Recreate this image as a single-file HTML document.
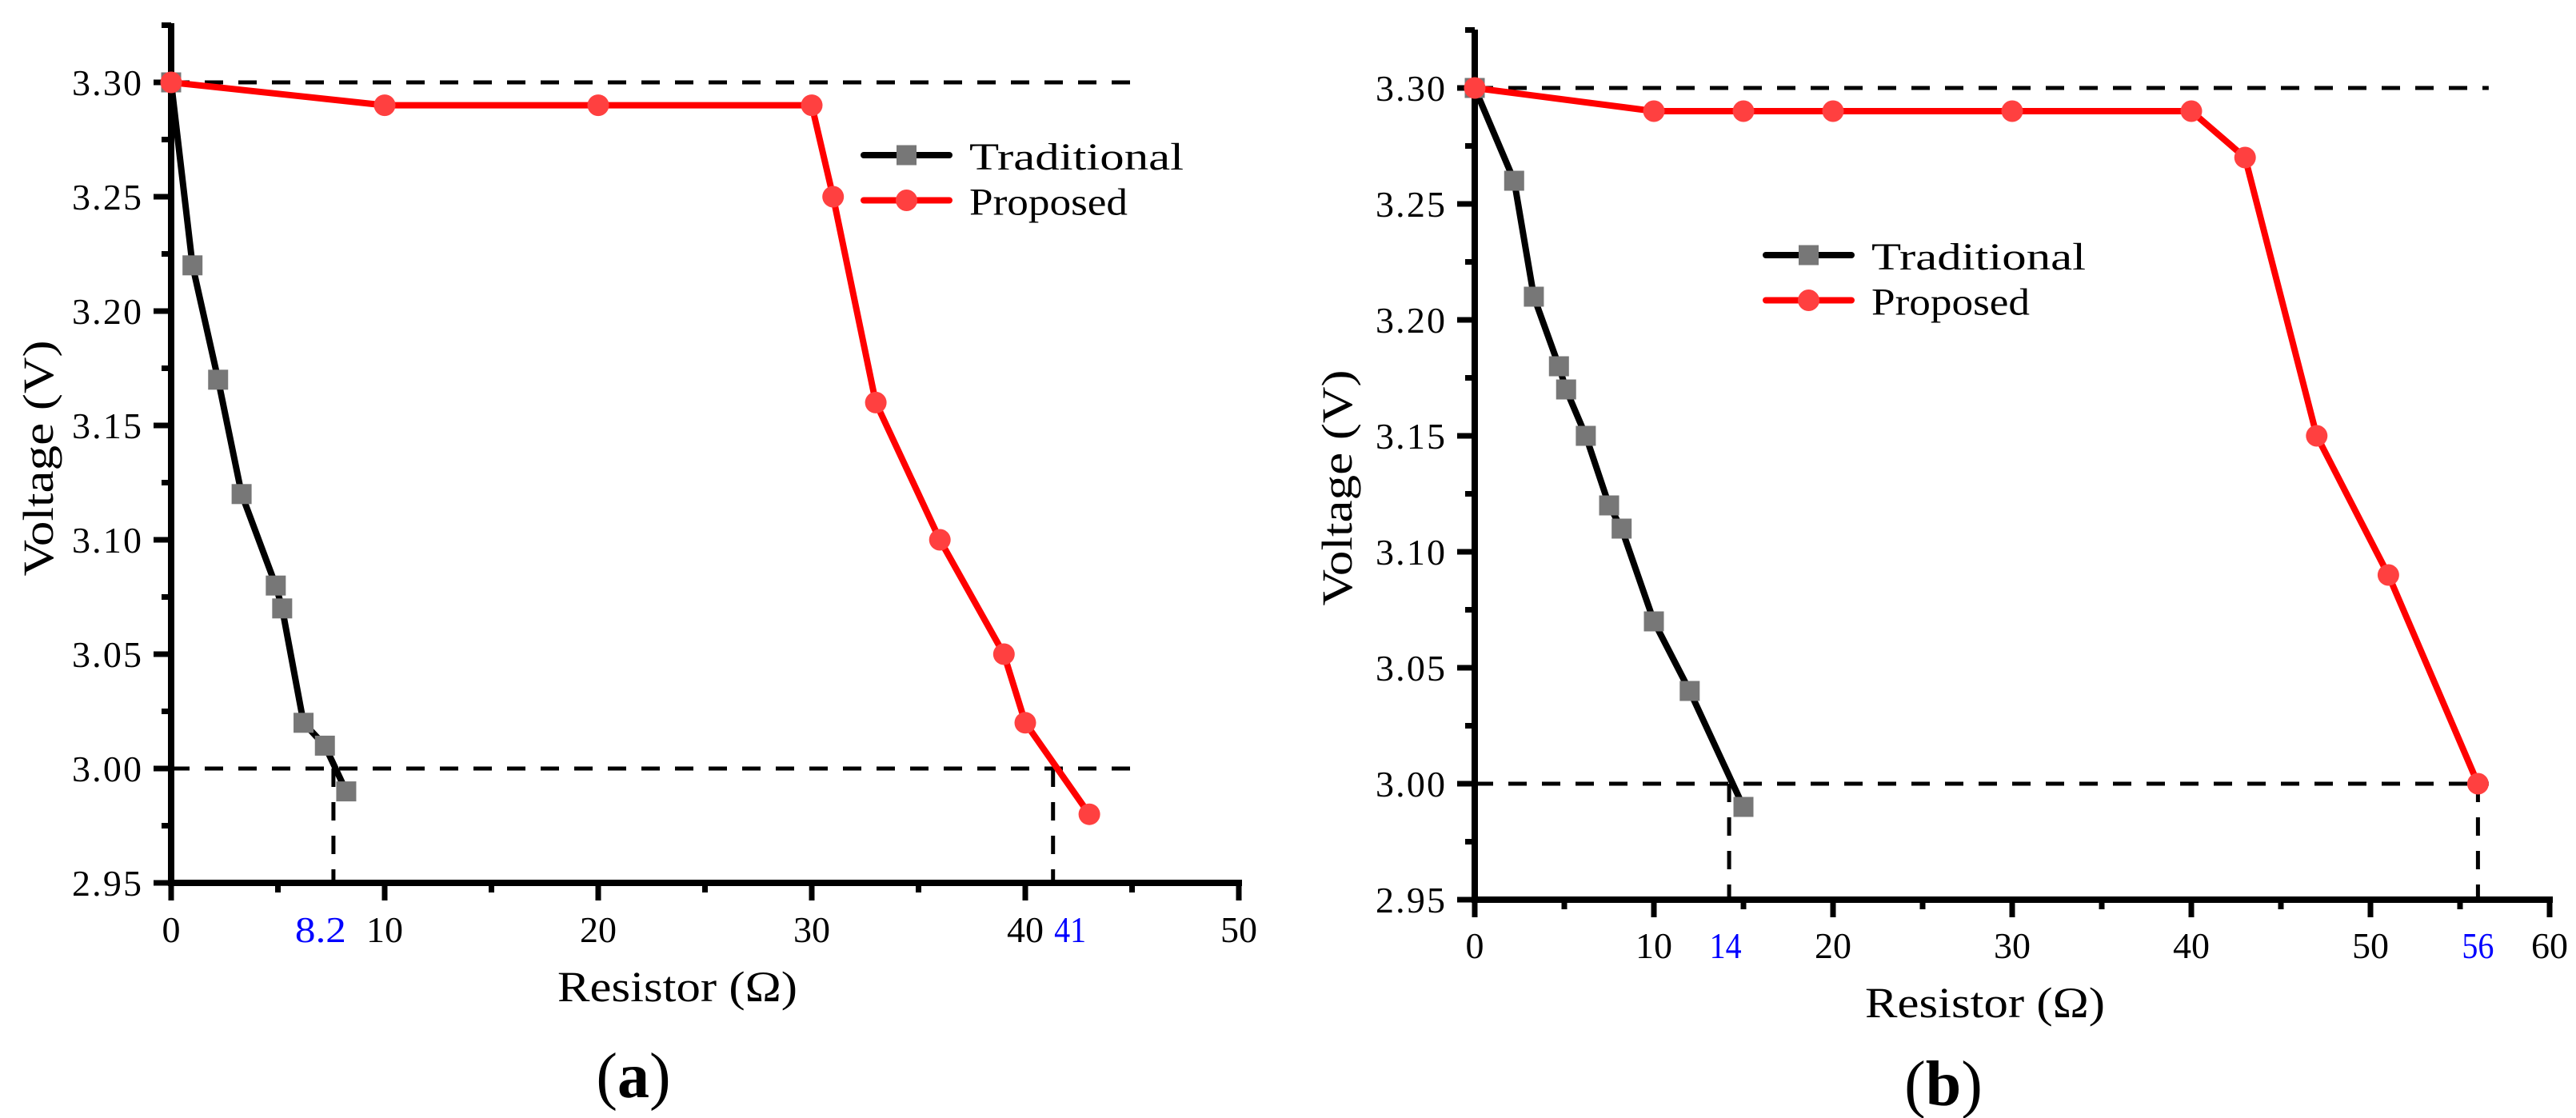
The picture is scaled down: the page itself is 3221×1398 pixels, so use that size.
<!DOCTYPE html>
<html><head><meta charset="utf-8"><style>
html,body{margin:0;padding:0;background:#fff;}
svg{display:block;}
text{font-family:"Liberation Serif","Noto Serif CJK SC",serif;}
</style></head>
<body>
<svg id="fig" width="3221" height="1398" viewBox="0 0 3221 1398"></svg>
<script>
// Panel (a) data
const aTradX = [0, 1.0, 2.2, 3.3, 4.9, 5.2, 6.2, 7.2, 8.2];
const aTradY = [3.30, 3.22, 3.17, 3.12, 3.08, 3.07, 3.02, 3.01, 2.99];
const aPropX = [0, 10, 20, 30, 31, 33, 36, 39, 40, 43];
const aPropY = [3.30, 3.29, 3.29, 3.29, 3.25, 3.16, 3.10, 3.05, 3.02, 2.98];
const aXTicks = [0, 10, 20, 30, 40, 50];
const aCross = [7.6, 41.3];
const aCrossLabels = ["8.2", "41"];
const aCrossLabelAt = [7.0, 42.1];
// Panel (b) data
const bTradX = [0, 2.2, 3.3, 4.7, 5.1, 6.2, 7.5, 8.2, 10, 12, 15];
const bTradY = [3.30, 3.26, 3.21, 3.18, 3.17, 3.15, 3.12, 3.11, 3.07, 3.04, 2.99];
const bPropX = [0, 10, 15, 20, 30, 40, 43, 47, 51, 56];
const bPropY = [3.30, 3.29, 3.29, 3.29, 3.29, 3.29, 3.27, 3.15, 3.09, 3.00];
const bXTicks = [0, 10, 20, 30, 40, 50, 60];
const bCross = [14.2, 56];
const bCrossLabels = ["14", "56"];
const bCrossLabelAt = [14.0, 56];
const yTicks = [2.95, 3.00, 3.05, 3.10, 3.15, 3.20, 3.25, 3.30];
const yTickLabels = ["2.95", "3.00", "3.05", "3.10", "3.15", "3.20", "3.25", "3.30"];
const refLevels = [3.30, 3.00];

const NS = "http://www.w3.org/2000/svg";
const svg = document.getElementById("fig");
function mk(tag, attrs, parent) {
  const e = document.createElementNS(NS, tag);
  for (const k in attrs) e.setAttribute(k, attrs[k]);
  (parent || svg).appendChild(e);
  return e;
}

function panel(cfg) {
  const g = mk("g", {});
  
  
  const sx = v => cfg.x0 + (v - cfg.xmin) * cfg.pxPerX;
  const sy = v => cfg.yBottom - (v - 2.95) * cfg.pxPerY;

  refLevels.forEach((lv, i) => {
    const l = mk("line", {x1: sx(0), x2: sx(cfg.dashEnd), y1: sy(lv), y2: sy(lv), stroke: "#000", "stroke-width": 5, "stroke-dasharray": "23 19"}, g);
    
    
  });
  cfg.cross.forEach((cx, i) => {
    const l = mk("line", {x1: sx(cx), x2: sx(cx), y1: sy(3.00), y2: sy(2.95), stroke: "#000", "stroke-width": 5, "stroke-dasharray": "23 19"}, g);
    
    
    const t = mk("text", {x: sx(cfg.crossLabelAt[i]), y: cfg.labelBase, "font-size": 46, fill: "#0000ff", "text-anchor": "middle", textLength: cfg.crossLabels[i].length === 3 ? 64 : 40, lengthAdjust: "spacingAndGlyphs"}, g);
    t.textContent = cfg.crossLabels[i];
    
    
  });

  const ya = mk("line", {x1: cfg.x0, x2: cfg.x0, y1: cfg.yTop, y2: cfg.yBottom + 4, stroke: "#000", "stroke-width": 8}, g);
  
  
  const xa = mk("line", {x1: cfg.x0 - 4, x2: sx(cfg.xmax) + 4, y1: cfg.yBottom, y2: cfg.yBottom, stroke: "#000", "stroke-width": 8}, g);
  
  

  yTicks.forEach((v, i) => {
    const tk = mk("line", {x1: cfg.x0 - 22, x2: cfg.x0, y1: sy(v), y2: sy(v), stroke: "#000", "stroke-width": 7}, g);
    
    
    const mt = mk("line", {x1: cfg.x0 - 12, x2: cfg.x0, y1: sy(v + 0.025), y2: sy(v + 0.025), stroke: "#000", "stroke-width": 7}, g);
    
    
    const t = mk("text", {x: cfg.x0 - 37, y: sy(v) + 16, "font-size": 46, "text-anchor": "end", textLength: 87, lengthAdjust: "spacing"}, g);
    t.textContent = yTickLabels[i];
    
    
  });
  cfg.xTicks.forEach((v, i) => {
    const tk = mk("line", {x1: sx(v), x2: sx(v), y1: cfg.yBottom, y2: cfg.yBottom + 22, stroke: "#000", "stroke-width": 7}, g);
    
    
    if (i < cfg.xTicks.length - 1) {
      const mt = mk("line", {x1: sx(v + 5), x2: sx(v + 5), y1: cfg.yBottom, y2: cfg.yBottom + 12, stroke: "#000", "stroke-width": 7}, g);
      
      
    }
    const t = mk("text", {x: sx(v), y: cfg.labelBase, "font-size": 46, "text-anchor": "middle"}, g);
    t.textContent = String(v);
    
    
  });

  function series(xs, ys, color, mcolor, shape, nm) {
    const pts = xs.map((x, i) => sx(x) + "," + sy(ys[i])).join(" ");
    const pl = mk("polyline", {points: pts, fill: "none", stroke: color, "stroke-width": 8, "stroke-linejoin": "round", "stroke-linecap": "round"}, g);
    
    
    xs.forEach((x, i) => {
      let m;
      if (shape === "sq") m = mk("rect", {x: sx(x) - 12.5, y: sy(ys[i]) - 12.5, width: 25, height: 25, fill: mcolor}, g);
      else m = mk("circle", {cx: sx(x), cy: sy(ys[i]), r: 13.5, fill: mcolor}, g);
      
      
    });
  }
  series(cfg.tx, cfg.ty, "#000", "#777", "sq", "traditional");
  series(cfg.px, cfg.py, "#ff0000", "#ff4040", "ci", "proposed");

  const lg = mk("g", {}, g);
  
  
  [["Traditional", "#000", "#777", "sq", 268], ["Proposed", "#ff0000", "#ff4040", "ci", 198]].forEach((e, i) => {
    const y = cfg.legY + i * 56.5;
    const ln = mk("line", {x1: cfg.legX, x2: cfg.legX + 107, y1: y, y2: y, stroke: e[1], "stroke-width": 8, "stroke-linecap": "round"}, lg);
    
    
    const cx = cfg.legX + 53.5;
    if (e[3] === "sq") mk("rect", {x: cx - 12.5, y: y - 12.5, width: 25, height: 25, fill: e[2]}, lg);
    else mk("circle", {cx: cx, cy: y, r: 13.5, fill: e[2]}, lg);
    const t = mk("text", {x: cfg.legX + 132, y: y + 18, "font-size": 48, textLength: e[4], lengthAdjust: "spacingAndGlyphs"}, lg);
    t.textContent = e[0];
    
    
  });

  const xt = mk("text", {x: cfg.xTitleX, y: cfg.xTitleY, "font-size": 54, "text-anchor": "middle", textLength: 300, lengthAdjust: "spacingAndGlyphs"}, g);
  xt.textContent = "Resistor (Ω)";
  
  
  const yt = mk("text", {x: 0, y: 0, "font-size": 54, "text-anchor": "middle", textLength: 295, lengthAdjust: "spacingAndGlyphs", transform: "translate(" + cfg.yTitleX + "," + cfg.yTitleY + ") rotate(-90)"}, g);
  yt.textContent = "Voltage (V)";
  
  
  const cap = mk("text", {x: cfg.capX, y: cfg.capY, "font-size": 80, "text-anchor": "middle"}, g);
  cap.innerHTML = '(<tspan font-weight="bold">' + cfg.cap + '</tspan>)';
  
  
}

panel({name: "panel-a", x0: 214, xmin: 0, xmax: 50, pxPerX: 26.7, yBottom: 1104, yTop: 29, pxPerY: 2860,
  xTicks: aXTicks, tx: aTradX, ty: aTradY, px: aPropX, py: aPropY, cross: aCross, crossLabels: aCrossLabels, crossLabelAt: aCrossLabelAt,
  dashEnd: 45.4, labelBase: 1178, legX: 1080, legY: 194, xTitleX: 847, xTitleY: 1252, yTitleX: 66, yTitleY: 573,
  capX: 792, capY: 1372, cap: "a"});
panel({name: "panel-b", x0: 1844, xmin: 0, xmax: 60, pxPerX: 22.4, yBottom: 1125, yTop: 37, pxPerY: 2900,
  xTicks: bXTicks, tx: bTradX, ty: bTradY, px: bPropX, py: bPropY, cross: bCross, crossLabels: bCrossLabels, crossLabelAt: bCrossLabelAt,
  dashEnd: 56.6, labelBase: 1198, legX: 2208, legY: 319, xTitleX: 2482, xTitleY: 1272, yTitleX: 1690, yTitleY: 610,
  capX: 2430, capY: 1382, cap: "b"});
</script>
</body></html>
